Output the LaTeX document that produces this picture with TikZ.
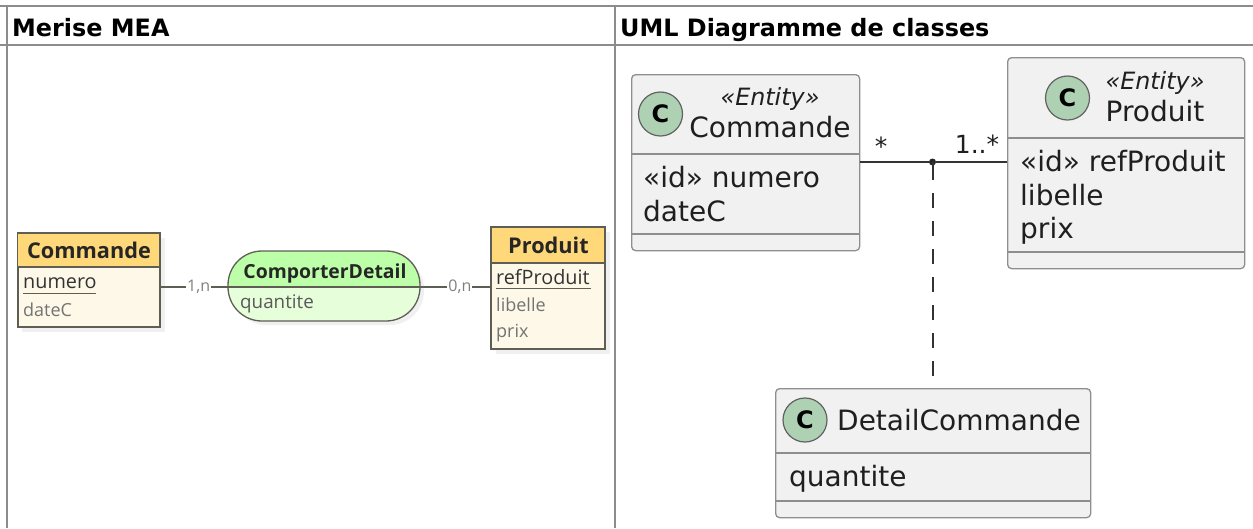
\documentclass[tikz,border=0pt]{standalone}
\usepackage{fontspec}
\setmainfont{DejaVu Sans}
\newfontfamily\merfont{Open Sans}
\definecolor{rule}{HTML}{8C8C8C}
\definecolor{entHead}{HTML}{FFD87A}
\definecolor{entBody}{HTML}{FDF8E8}
\definecolor{relHead}{HTML}{BDFFA8}
\definecolor{relBody}{HTML}{E6FFDA}
\definecolor{merLine}{HTML}{5E5E55}
\definecolor{umlFill}{HTML}{F1F1F1}
\definecolor{umlLine}{HTML}{8E8E8E}
\definecolor{spotFill}{HTML}{ADD1B2}
\definecolor{umlText}{HTML}{1F1F1F}
\newcommand{\fs}[1]{\fontsize{#1pt}{#1pt}\selectfont}
\tikzset{
  x=1pt,y=-1pt,
  gridline/.style={draw=rule,line width=2pt},
  title/.style={anchor=base west,inner sep=0pt,font=\fs{23.9}\bfseries,text=black},
  merbox/.style={draw=merLine,line width=1.3pt,inner sep=0pt,anchor=north west},
  merrule/.style={draw=merLine,line width=1.3pt},
  mershadow/.style={fill=black!6,draw=none},
  mertitle/.style={inner sep=0pt,anchor=base,font=\merfont\fs{21.7}\bfseries,text=black!85},
  meritem/.style={inner sep=0pt,anchor=base west,font=\merfont\fs{18},text=black!55},
  merkey/.style={inner sep=0pt,anchor=base west,font=\merfont\fs{19.8},text=black!80},
  card/.style={inner sep=1pt,fill=white,font=\merfont\fs{16},text=black!50},
  umlbox/.style={draw=umlLine,line width=1.3pt,fill=umlFill,rounded corners=4pt,inner sep=0pt,anchor=north west},
  umlsep/.style={draw=umlLine,line width=1.2pt},
  spot/.style={circle,draw=black!62,line width=1.2pt,fill=spotFill,minimum size=44pt,inner sep=0pt,font=\fs{24}\bfseries,text=black},
  stereo/.style={inner sep=0pt,anchor=base,font=\fs{23.8}\itshape,text=umlText},
  umlname/.style={inner sep=0pt,anchor=base,font=\fs{28},text=umlText},
  umlitem/.style={inner sep=0pt,anchor=base west,font=\fs{28},text=umlText},
  umlcard/.style={inner sep=0pt,font=\fs{25},text=umlText},
  assoc/.style={draw=black!80,line width=1.5pt},
  dashedlink/.style={draw=black!80,line width=1.5pt,dash pattern=on 18pt off 13pt on 15pt off 13pt on 15pt off 13pt on 15pt off 13pt on 15pt off 13pt on 15pt off 13pt on 15pt off 13pt on 15pt off 13pt},
}
\begin{document}
\begin{tikzpicture}
\useasboundingbox (0,0) rectangle (1253,528);
% table
\draw[gridline] (0,6) -- (1253,6);
\draw[gridline] (7,5) -- (7,528);
\draw[gridline] (615,5) -- (615,528);
\draw[gridline] (0,44.5) -- (1253,44.5);
\node[title] (hmer) at (12,36) {Merise MEA};
\node[title] (huml) at (620,36) {UML Diagramme de classes};
% Merise entity Commande
\fill[mershadow] (22,238) rectangle (165,332);
\node[merbox,fill=entBody,minimum width=142.5pt,minimum height=94pt] (mcmd) at (17.5,233) {};
\fill[entHead] (18,233.5) rectangle (159.5,267);
\draw[merrule] (17.5,267) -- (160,267);
\draw[merrule] (17.5,233) rectangle (160,327);
\node[mertitle] (mcmdt) at (89,258) {Commande};
\node[merkey] (mcmdk) at (23,288) {numero};
\draw[merrule,line width=1pt] (23,293.5) -- (96,293.5);
\node[meritem] (mcmdd) at (23,316) {dateC};
% Merise entity Produit
\fill[mershadow] (496,232) rectangle (610,354);
\node[merbox,fill=entBody,minimum width=114pt,minimum height=122pt] (mprod) at (491,227) {};
\fill[entHead] (491.5,227.5) rectangle (604.5,263);
\draw[merrule] (491,263) -- (605,263);
\draw[merrule] (491,227) rectangle (605,349);
\node[mertitle] (mprodt) at (548.5,253) {Produit};
\node[merkey] (mprodk) at (496,284) {refProduit};
\draw[merrule,line width=1pt] (496,288.5) -- (591,288.5);
\node[meritem] (mprodl) at (496,311) {libelle};
\node[meritem] (mprodp) at (496,337) {prix};
% Merise relation
\fill[mershadow,rounded corners=34pt] (232,255) rectangle (424,325);
\node[inner sep=0pt,minimum width=192pt,minimum height=70pt,anchor=north west] (mrel) at (228,251) {};
\begin{scope}
\clip[rounded corners=34pt] (228,251) rectangle (420,321);
\fill[relHead] (228,251) rectangle (420,287);
\fill[relBody] (228,287) rectangle (420,321);
\end{scope}
\draw[merrule,rounded corners=34pt] (228,251) rectangle (420,321);
\draw[merrule] (228,287) -- (420,287);
\node[mertitle,font=\merfont\fs{19.4}\bfseries] (mrelt) at (325,278) {ComporterDetail};
\node[merkey,text=black!65,font=\merfont\fs{18.8}] (mrelq) at (240,308) {quantite};
% Merise connectors
\coordinate (mlev) at (324,287);
\draw[merrule] (mcmd.east |- mlev) -- node[card,pos=0.56] (c1) {1,n} (mrel.west |- mlev);
\draw[merrule] (mrel.east |- mlev) -- node[card,pos=0.56] (c2) {0,n} (mprod.west |- mlev);
% UML Commande
\node[umlbox,minimum width=228pt,minimum height=176pt] (ucmd) at (631,74) {};
\draw[umlsep] (631,154) -- (859,154);
\draw[umlsep] (631,234) -- (859,234);
\node[spot] (ucmds) at (660.5,114) {C};
\node[stereo] (ucmdst) at (770,105) {«Entity»};
\node[umlname] (ucmdn) at (770,137) {Commande};
\node[umlitem] (ucmdi) at (643,187) {«id» numero};
\node[umlitem] (ucmdd) at (643,221) {dateC};
% UML Produit
\node[umlbox,minimum width=237pt,minimum height=211pt] (uprod) at (1007,57) {};
\draw[umlsep] (1007,138) -- (1244,138);
\draw[umlsep] (1007,252) -- (1244,252);
\node[spot] (uprods) at (1067.5,98) {C};
\node[stereo] (uprodst) at (1155,89) {«Entity»};
\node[umlname] (uprodn) at (1155,121) {Produit};
\node[umlitem] (uprodi) at (1020,171) {«id» refProduit};
\node[umlitem] (uprodl) at (1020,205) {libelle};
\node[umlitem] (uprodp) at (1020,238) {prix};
% UML DetailCommande
\node[umlbox,minimum width=315pt,minimum height=129pt] (udet) at (775,388) {};
\draw[umlsep] (775,453) -- (1090,453);
\draw[umlsep] (775,501) -- (1090,501);
\node[spot] (udets) at (805,420) {C};
\node[umlname] (udetn) at (959,430) {DetailCommande};
\node[umlitem] (udeti) at (789,486) {quantite};
% UML connectors
\node[circle,fill=black!85,inner sep=0pt,minimum size=7pt] (udot) at (932.5,162) {};
\coordinate (uend) at (933,378);
\draw[assoc] (ucmd.east |- udot) -- (udot);
\draw[assoc] (udot) -- (uprod.west |- udot);
\draw[dashedlink] (933,162) -- (uend);
\node[umlcard] (ucs) at (881,146) {*};
\node[umlcard] (ucm) at (977,144) {1..*};
\end{tikzpicture}
\end{document}
